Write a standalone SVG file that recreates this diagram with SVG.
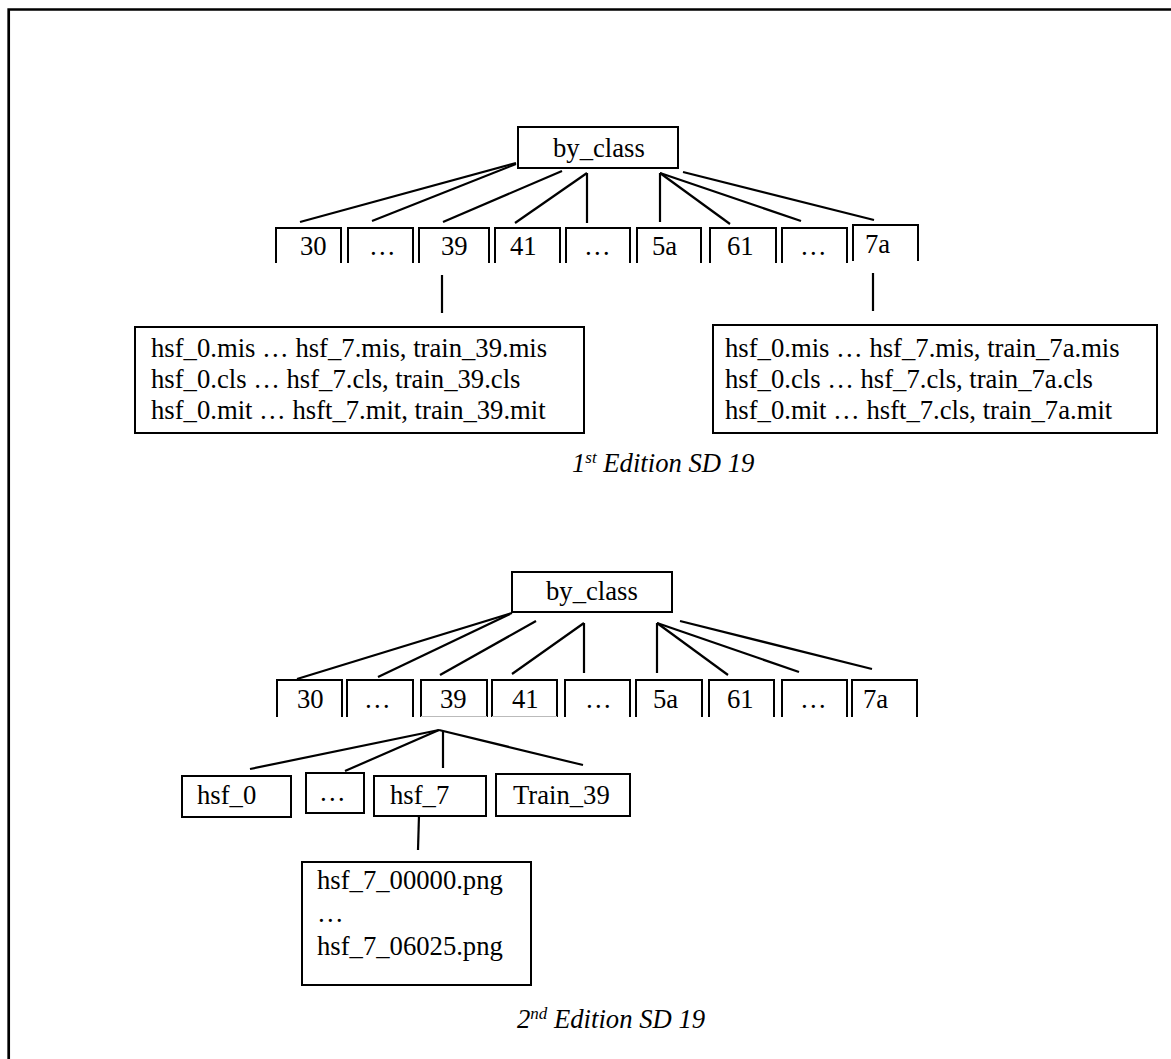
<svg xmlns="http://www.w3.org/2000/svg" width="1171" height="1059" viewBox="0 0 1171 1059">
<style>
.bx{fill:none;stroke:#000;stroke-width:2}
.t{font-family:"Liberation Serif","Times New Roman",serif;font-size:26.67px;fill:#000}
.cap{font-style:italic}
.ln{stroke:#000;stroke-width:2.2;fill:none;stroke-linecap:butt}
.gb{stroke:#bbb;stroke-width:1}
</style>
<rect width="1171" height="1059" fill="#fff"/>
<g id="frame"><path d="M8.7 1059 V9.5 H1171" fill="none" stroke="#000" stroke-width="2.7"/></g>

<!-- Section 1 -->
<g id="s1-root"><rect class="bx" x="518" y="127" width="160" height="41"/><text class="t" x="553" y="157">by_class</text></g>
<g id="s1-30"><path class="bx" d="M276 263V228H341V263"/><text class="t" x="300" y="255">30</text></g>
<g id="s1-e1"><path class="bx" d="M348 263V228H413V263"/><text class="t" x="369" y="255">…</text></g>
<g id="s1-39"><path class="bx" d="M419 263V228H489V263"/><text class="t" x="441" y="255">39</text></g>
<g id="s1-41"><path class="bx" d="M495 263V228H560V263"/><text class="t" x="510" y="255">41</text></g>
<g id="s1-e2"><path class="bx" d="M566 263V228H630V263"/><text class="t" x="584" y="255">…</text></g>
<g id="s1-5a"><path class="bx" d="M637 263V228H701V263"/><text class="t" x="652" y="255">5a</text></g>
<g id="s1-61"><path class="bx" d="M710 263V228H776V263"/><text class="t" x="727" y="255">61</text></g>
<g id="s1-e3"><path class="bx" d="M782 263V228H847V263"/><text class="t" x="800" y="255">…</text></g>
<g id="s1-7a"><path class="bx" d="M853 261V225H918V261"/><text class="t" x="865" y="253">7a</text></g>
<g id="s1-files39"><rect class="bx" x="135" y="327" width="449" height="106"/>
<text class="t" x="151" y="357">hsf_0.mis … hsf_7.mis, train_39.mis</text>
<text class="t" x="151" y="388">hsf_0.cls … hsf_7.cls, train_39.cls</text>
<text class="t" x="151" y="419">hsf_0.mit … hsft_7.mit, train_39.mit</text></g>
<g id="s1-files7a"><rect class="bx" x="713" y="325" width="444" height="108"/>
<text class="t" x="725" y="357">hsf_0.mis … hsf_7.mis, train_7a.mis</text>
<text class="t" x="725" y="388">hsf_0.cls … hsf_7.cls, train_7a.cls</text>
<text class="t" x="725" y="419">hsf_0.mit … hsft_7.cls, train_7a.mit</text></g>
<g id="s1-caption"><text class="t cap" x="572" y="472">1<tspan font-size="17" dy="-9">st</tspan><tspan dy="9"> Edition SD 19</tspan></text></g>

<!-- Section 2 -->
<g id="s2-root"><rect class="bx" x="512" y="572" width="160" height="40"/><text class="t" x="546" y="600">by_class</text></g>
<g id="s2-30"><path class="bx" d="M277 717V680H342V717"/><text class="t" x="297" y="708">30</text></g>
<g id="s2-e1"><path class="bx" d="M347 717V680H413V717"/><text class="t" x="364" y="708">…</text></g>
<g id="s2-39"><path class="bx" d="M421 717V680H487V717"/><path class="gb" d="M421 716.5H487"/><text class="t" x="440" y="708">39</text></g>
<g id="s2-41"><path class="bx" d="M492 717V680H557V717"/><path class="gb" d="M492 716.5H557"/><text class="t" x="512" y="708">41</text></g>
<g id="s2-e2"><path class="bx" d="M565 717V680H630V717"/><text class="t" x="585" y="708">…</text></g>
<g id="s2-5a"><path class="bx" d="M636 717V680H702V717"/><text class="t" x="653" y="708">5a</text></g>
<g id="s2-61"><path class="bx" d="M709 717V680H774V717"/><text class="t" x="727" y="708">61</text></g>
<g id="s2-e3"><path class="bx" d="M782 717V680H847V717"/><text class="t" x="800" y="708">…</text></g>
<g id="s2-7a"><path class="bx" d="M852 717V680H917V717"/><text class="t" x="863" y="708">7a</text></g>
<g id="s2-hsf0"><rect class="bx" x="182" y="776" width="109" height="41"/><text class="t" x="197" y="804">hsf_0</text></g>
<g id="s2-hsfe"><rect class="bx" x="306" y="773" width="58" height="40"/><text class="t" x="319" y="801">…</text></g>
<g id="s2-hsf7"><rect class="bx" x="374" y="776" width="112" height="40"/><text class="t" x="390" y="804">hsf_7</text></g>
<g id="s2-train39"><rect class="bx" x="496" y="774" width="134" height="42"/><text class="t" x="513" y="804">Train_39</text></g>
<g id="s2-png"><rect class="bx" x="302" y="862" width="229" height="123"/>
<text class="t" x="317" y="889">hsf_7_00000.png</text>
<text class="t" x="317" y="922">…</text>
<text class="t" x="317" y="955">hsf_7_06025.png</text></g>
<g id="s2-caption"><text class="t cap" x="517" y="1028">2<tspan font-size="17" dy="-9">nd</tspan><tspan dy="9"> Edition SD 19</tspan></text></g>

<g id="connectors" class="ln">
<line x1="516" y1="163" x2="300" y2="222"/>
<line x1="516" y1="164" x2="372" y2="221"/>
<line x1="562" y1="171" x2="443" y2="222"/>
<line x1="587" y1="173" x2="515" y2="223"/>
<line x1="587" y1="173" x2="587" y2="223"/>
<line x1="660" y1="173" x2="660" y2="222"/>
<line x1="660" y1="173" x2="730" y2="224"/>
<line x1="660" y1="173" x2="801" y2="221"/>
<line x1="683" y1="172" x2="874" y2="220"/>
<line x1="442" y1="275" x2="442" y2="313"/>
<line x1="873" y1="273" x2="873" y2="311"/>
<line x1="512" y1="613" x2="297" y2="679"/>
<line x1="510" y1="614" x2="378" y2="677"/>
<line x1="536" y1="621" x2="440" y2="675"/>
<line x1="584" y1="623" x2="512" y2="674"/>
<line x1="584" y1="623" x2="584" y2="673"/>
<line x1="657" y1="623" x2="657" y2="673"/>
<line x1="657" y1="623" x2="728" y2="675"/>
<line x1="657" y1="623" x2="799" y2="672"/>
<line x1="680" y1="621" x2="872" y2="669"/>
<line x1="439" y1="730" x2="250" y2="769"/>
<line x1="439" y1="730" x2="345" y2="771"/>
<line x1="443" y1="731" x2="443" y2="768"/>
<line x1="439" y1="730" x2="583" y2="765"/>
<line x1="419" y1="815" x2="418" y2="850"/>
</g>
</svg>
